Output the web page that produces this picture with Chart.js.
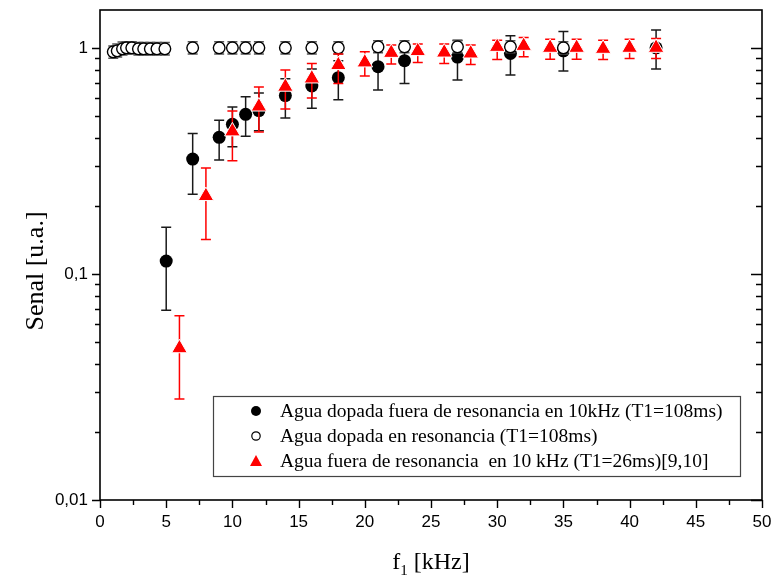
<!DOCTYPE html>
<html>
<head>
<meta charset="utf-8">
<script src="https://cdn.jsdelivr.net/npm/chart.js@4.4.0/dist/chart.umd.min.js"></script>
<style>
  body { margin: 0; background: #fff; }
  #wrap { width: 772px; height: 582px; }
</style>
</head>
<body>
<div id="wrap"><canvas id="canvas" width="772" height="582"></canvas></div>
<script>

// agua dopada fuera de resonancia (filled circles)
let fueraX    = [5, 7, 9, 10, 11, 12, 14, 16, 18, 21, 23, 27, 31, 35, 42];
let fueraY    = [0.114, 0.322, 0.402, 0.459, 0.508, 0.528, 0.615, 0.678, 0.738, 0.825, 0.877, 0.91, 0.944, 0.97, 1.0];
let fueraLow  = [0.069, 0.225, 0.319, 0.365, 0.406, 0.43, 0.489, 0.54, 0.589, 0.651, 0.696, 0.72, 0.758, 0.79, 0.806];
let fueraHigh = [0.161, 0.418, 0.478, 0.548, 0.607, 0.631, 0.73, 0.806, 0.877, 1.0, 1.04, 1.08, 1.13, 1.18, 1.2];

// agua dopada en resonancia (open circles)
let resX    = [1, 1.3, 1.7, 2, 2.4, 2.9, 3.3, 3.8, 4.3, 4.9, 7, 9, 10, 11, 12, 14, 16, 18, 21, 23, 27, 31, 35];
let resY    = [0.96, 0.97, 0.99, 1.0, 1.0, 0.99, 0.99, 0.99, 0.99, 0.99, 1.0, 1.0, 1.0, 1.0, 1.0, 1.0, 1.0, 1.0, 1.01, 1.01, 1.01, 1.01, 1.0];
let resLow  = [0.9, 0.91, 0.93, 0.94, 0.94, 0.93, 0.93, 0.93, 0.93, 0.93, 0.94, 0.94, 0.94, 0.94, 0.94, 0.94, 0.94, 0.94, 0.95, 0.95, 0.95, 0.95, 0.94];
let resHigh = [1.02, 1.04, 1.06, 1.065, 1.065, 1.055, 1.055, 1.055, 1.055, 1.055, 1.065, 1.065, 1.065, 1.065, 1.065, 1.065, 1.065, 1.065, 1.075, 1.075, 1.075, 1.075, 1.065];

// agua fuera de resonancia en 10 kHz, T1=26ms (red triangles)
let aguaX    = [6, 8, 10, 12, 14, 16, 18, 20, 22, 24, 26, 28, 30, 32, 34, 36, 38, 40, 42];
let aguaY    = [0.0469, 0.221, 0.427, 0.55, 0.673, 0.732, 0.839, 0.862, 0.95, 0.967, 0.953, 0.944, 1.01, 1.02, 1.0, 1.0, 0.99, 1.0, 1.0];
let aguaLow  = [0.028, 0.142, 0.317, 0.424, 0.537, 0.6, 0.696, 0.75, 0.848, 0.862, 0.853, 0.844, 0.888, 0.913, 0.89, 0.89, 0.888, 0.897, 0.897];
let aguaHigh = [0.0653, 0.294, 0.526, 0.671, 0.797, 0.853, 0.938, 0.96, 1.03, 1.04, 1.04, 1.03, 1.08, 1.11, 1.09, 1.09, 1.08, 1.09, 1.1];

let seriesNames = [
  'Agua dopada fuera de resonancia en 10kHz (T1=108ms)',
  'Agua dopada en resonancia (T1=108ms)',
  'Agua fuera de resonancia  en 10 kHz (T1=26ms)[9,10]'
];

let yTicks = [0.01, 0.02, 0.03, 0.04, 0.05, 0.06, 0.07, 0.08, 0.09,
              0.1, 0.2, 0.3, 0.4, 0.5, 0.6, 0.7, 0.8, 0.9, 1];
let yMajor = [0.01, 0.1, 1];
let yMajorLabels = ['0,01', '0,1', '1'];

function points(xs, ys) {
  let out = [];
  for (let i = 0; i < xs.length; i++) out.push({x: xs[i], y: ys[i]});
  return out;
}

// no extra room for edge labels, the plot box is placed by layout padding
function noScalePadding(scale) {
  scale.paddingTop = 0;
  scale.paddingBottom = 0;
  scale.paddingLeft = 0;
  scale.paddingRight = 0;
}

// error bars are drawn just before the markers of their own dataset
const errorBars = {
  id: 'errorBars',
  beforeDatasetDraw(chart, args) {
    let ds = chart.data.datasets[args.index];
    if (!ds.errLow) return;
    let ctx = chart.ctx;
    let xs = chart.scales.x, ys = chart.scales.y;
    ctx.save();
    ctx.strokeStyle = ds.errColor;
    ctx.lineWidth = 1.5;
    for (let i = 0; i < ds.data.length; i++) {
      let px = xs.getPixelForValue(ds.data[i].x);
      let top = ys.getPixelForValue(ds.errHigh[i]);
      let bot = ys.getPixelForValue(ds.errLow[i]);
      ctx.beginPath();
      ctx.moveTo(px, top); ctx.lineTo(px, bot);
      ctx.moveTo(px - 5, top); ctx.lineTo(px + 5, top);
      ctx.moveTo(px - 5, bot); ctx.lineTo(px + 5, bot);
      ctx.stroke();
    }
    ctx.restore();
  }
};

// frame, tick marks, axis titles and the boxed legend
const decorations = {
  id: 'decorations',
  afterDraw(chart) {
    let ctx = chart.ctx;
    let a = chart.chartArea;
    let xs = chart.scales.x, ys = chart.scales.y;
    ctx.save();
    ctx.strokeStyle = '#000';
    ctx.lineWidth = 1.6;
    ctx.strokeRect(a.left, a.top, a.right - a.left, a.bottom - a.top);

    ctx.lineWidth = 1.4;
    ctx.beginPath();
    for (let t of ys.ticks) {
      let py = Math.round(ys.getPixelForValue(t.value)) + 0.5;
      let major = yMajor.includes(t.value);
      let len = major ? 8 : 5;
      ctx.moveTo(a.left - len, py); ctx.lineTo(a.left, py);
      ctx.moveTo(a.right - (major ? 11 : 6), py); ctx.lineTo(a.right, py);
    }
    for (let t of xs.ticks) {
      let px = Math.round(xs.getPixelForValue(t.value)) + 0.5;
      ctx.moveTo(px, a.bottom); ctx.lineTo(px, a.bottom + 8);
      if (t.value < xs.max) {
        let pm = Math.round(xs.getPixelForValue(t.value + 2.5)) + 0.5;
        ctx.moveTo(pm, a.bottom); ctx.lineTo(pm, a.bottom + 5);
      }
    }
    ctx.stroke();

    // axis titles
    ctx.fillStyle = '#000';
    ctx.font = '26px "Liberation Serif"';
    ctx.save();
    ctx.translate(36, (a.top + a.bottom) / 2 + 16);
    ctx.rotate(-Math.PI / 2);
    ctx.textAlign = 'center';
    ctx.textBaseline = 'middle';
    ctx.fillText('Senal [u.a.]', 0, 0);
    ctx.restore();

    ctx.font = '24px "Liberation Serif"';
    let wF = ctx.measureText('f').width;
    ctx.font = '15px "Liberation Serif"';
    let w1 = ctx.measureText('1').width;
    ctx.font = '24px "Liberation Serif"';
    let wRest = ctx.measureText(' [kHz]').width;
    let x0 = (a.left + a.right) / 2 - (wF + w1 + wRest) / 2;
    ctx.textBaseline = 'alphabetic';
    ctx.textAlign = 'left';
    ctx.fillText('f', x0, 569);
    ctx.font = '15px "Liberation Serif"';
    ctx.fillText('1', x0 + wF, 575);
    ctx.font = '24px "Liberation Serif"';
    ctx.fillText(' [kHz]', x0 + wF + w1, 569);

    // legend box
    let bx = 213, by = 396, bw = a.right - 22 - bx, bh = a.bottom - 24 - by;
    ctx.fillStyle = '#fff';
    ctx.fillRect(bx, by, bw, bh);
    ctx.strokeStyle = '#444';
    ctx.lineWidth = 1.2;
    ctx.strokeRect(bx + 0.5, by + 0.5, bw, bh);

    ctx.font = '19.5px "Liberation Serif"';
    ctx.textBaseline = 'middle';
    for (let i = 0; i < seriesNames.length; i++) {
      let ry = by + 15 + i * 25;
      let mx = 256;
      ctx.beginPath();
      if (i === 0) {
        ctx.arc(mx, ry, 5, 0, Math.PI * 2);
        ctx.fillStyle = '#000';
        ctx.fill();
      } else if (i === 1) {
        ctx.arc(mx, ry, 4.2, 0, Math.PI * 2);
        ctx.strokeStyle = '#000';
        ctx.lineWidth = 1.2;
        ctx.stroke();
      } else {
        ctx.moveTo(mx, ry - 6);
        ctx.lineTo(mx + 6, ry + 5);
        ctx.lineTo(mx - 6, ry + 5);
        ctx.closePath();
        ctx.fillStyle = '#ff0000';
        ctx.fill();
      }
      ctx.fillStyle = '#000';
      ctx.fillText(seriesNames[i], 280, ry + 1);
    }
    ctx.restore();
  }
};

let options = {
  type: 'scatter',
  data: {
    datasets: [
      {
        label: seriesNames[0],
        data: points(fueraX, fueraY),
        errLow: fueraLow, errHigh: fueraHigh, errColor: '#1a1a1a',
        pointStyle: 'circle',
        pointRadius: 6.5,
        backgroundColor: '#000',
        borderColor: '#000',
        borderWidth: 0,
        order: 3
      },
      {
        label: seriesNames[1],
        data: points(resX, resY),
        errLow: resLow, errHigh: resHigh, errColor: '#555',
        pointStyle: 'circle',
        pointRadius: 5.8,
        backgroundColor: '#fff',
        borderColor: '#000',
        borderWidth: 1.4,
        order: 2
      },
      {
        label: seriesNames[2],
        data: points(aguaX, aguaY),
        errLow: aguaLow, errHigh: aguaHigh, errColor: '#ff0000',
        pointStyle: 'triangle',
        pointRadius: 9,
        backgroundColor: '#ff0000',
        borderColor: '#fff',
        borderWidth: 1,
        order: 1
      }
    ]
  },
  options: {
    responsive: false,
    animation: false,
    devicePixelRatio: 1,
    layout: { padding: { left: 0, right: 10, top: 8, bottom: 0 } },
    plugins: {
      legend: { display: false },
      tooltip: { enabled: false }
    },
    scales: {
      x: {
        type: 'linear',
        min: 0, max: 50,
        afterFit(scale) { scale.height = 82; noScalePadding(scale); },
        grid: { display: false, drawTicks: false },
        border: { display: false },
        ticks: {
          stepSize: 5,
          padding: 12,
          color: '#000',
          font: { family: '"Liberation Sans"', size: 17 }
        }
      },
      y: {
        type: 'logarithmic',
        min: 0.01, max: 1.47,
        afterBuildTicks(scale) {
          scale.ticks = yTicks.map(function(v) { return {value: v}; });
        },
        afterFit(scale) { scale.width = 100; noScalePadding(scale); },
        grid: { display: false, drawTicks: false },
        border: { display: false },
        ticks: {
          autoSkip: false,
          padding: 12,
          color: '#000',
          font: { family: '"Liberation Sans"', size: 17 },
          callback: function(v) {
            let k = yMajor.indexOf(v);
            return k >= 0 ? yMajorLabels[k] : '';
          }
        }
      }
    }
  },
  plugins: [errorBars, decorations]
};

let chart = new Chart(document.getElementById('canvas'), options);
</script>
</body>
</html>
